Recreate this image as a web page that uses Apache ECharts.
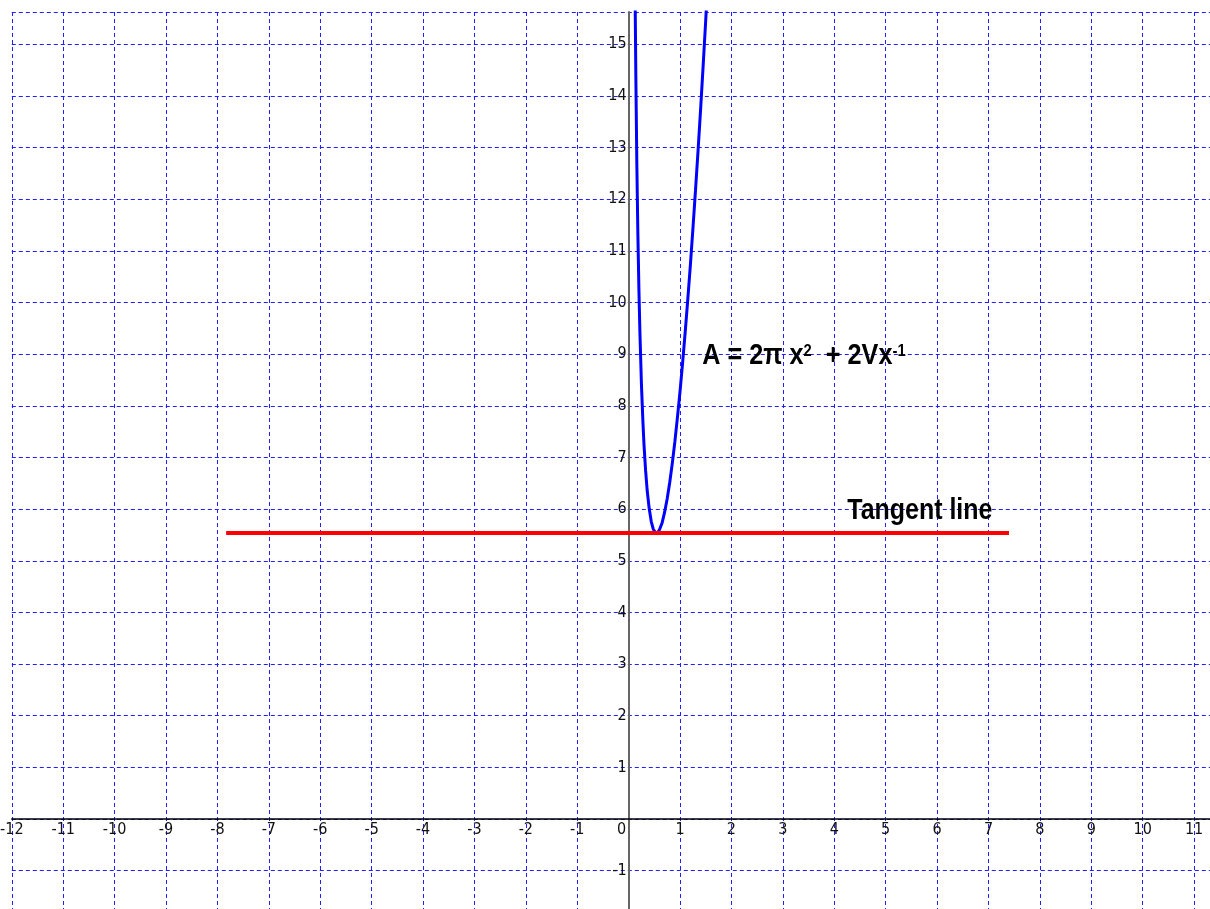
<!DOCTYPE html>
<html>
<head>
<meta charset="utf-8">
<title>A = 2πx² + 2Vx⁻¹</title>
<script src="https://cdn.jsdelivr.net/npm/echarts@6/dist/echarts.min.js"></script>
<style>
html, body { margin: 0; padding: 0; background: #ffffff; }
#container { width: 1210px; height: 909px; }
</style>
</head>
<body>
<div id="container"></div>
<script>
// curve A = 2*pi*x^2 + 2V/x
var curveX = [0.12, 0.13, 0.14, 0.16, 0.18, 0.20, 0.22, 0.25, 0.28, 0.30, 0.33, 0.36, 0.40, 0.44, 0.48, 0.52, 0.542,
              0.56, 0.60, 0.65, 0.70, 0.75, 0.80, 0.85, 0.90, 0.95, 1.00, 1.05, 1.10, 1.15, 1.20, 1.25, 1.30, 1.35,
              1.40, 1.45, 1.50, 1.55];
var curveY = [16.76, 15.49, 14.41, 12.66, 11.31, 10.25, 9.40, 8.39, 7.64, 7.23, 6.75, 6.37, 6.01, 5.76, 5.61, 5.55, 5.536,
              5.54, 5.60, 5.73, 5.94, 6.20, 6.52, 6.89, 7.31, 7.78, 8.28, 8.83, 9.42, 10.05, 10.71, 11.42, 12.16, 12.93,
              13.74, 14.59, 15.47, 16.39];

// horizontal tangent at the minimum
var tangentX = [-7.83, 7.40];
var tangentY = [5.536, 5.536];

// axis extents
var xRange = [-12, 11.31];
var yRange = [-2, 15.625];

// where the two texts sit (data coordinates)
var formulaAt = [3.41, 8.96];
var tangentTextAt = [5.665, 5.96];

// pick a narrow face if one is installed
function hasFont(name) {
    var c = document.createElement('canvas').getContext('2d');
    c.font = '40px monospace';
    var w0 = c.measureText('abcdefghijklm 0123456789').width;
    c.font = "40px '" + name + "', monospace";
    return c.measureText('abcdefghijklm 0123456789').width !== w0;
}
var narrow = ['Liberation Sans Narrow', 'Arial Narrow', 'DejaVu Sans Condensed', 'Roboto Condensed'].filter(hasFont)[0];
var labelFont = narrow ? "'" + narrow + "', 'Liberation Sans', sans-serif" : "'Liberation Sans', Arial, sans-serif";
var labelSize = narrow ? 16 : 14;

var dom = document.getElementById("container");
var myChart = echarts.init(dom);

var curveData = curveX.map(function (x, i) { return [x, curveY[i]]; });
var tangentData = tangentX.map(function (x, i) { return [x, tangentY[i]]; });

var option = {
    backgroundColor: '#FFFFFF',
    animation: false,
    grid: { left: 11.8, right: 0, top: 12, bottom: -13.3, containLabel: false, outerBoundsMode: 'none' },
    xAxis: {
        type: 'value',
        min: xRange[0],
        max: xRange[1],
        interval: 1,
        axisLine: { onZero: false, lineStyle: { color: '#000000', width: 1.5 } },
        axisTick: { show: false },
        splitLine: { show: true, lineStyle: { color: '#1f1fff', width: 1, type: [4, 3] } },
        axisLabel: {
            margin: 3,
            color: '#111111',
            fontSize: labelSize,
            fontFamily: labelFont,
            formatter: function (v) {
                if (Math.abs(v - Math.round(v)) > 1e-6) return '';
                if (v === 0) return '{o|0}';
                return String(v);
            },
            rich: {
                o: { fontSize: labelSize, fontFamily: labelFont, color: '#111111', padding: [0, 14, 0, 0] }
            }
        },
        z: 3
    },
    yAxis: {
        type: 'value',
        min: yRange[0],
        max: yRange[1],
        interval: 1,
        axisLine: { onZero: false, lineStyle: { color: '#666666', width: 2 } },
        axisTick: { show: false },
        splitLine: { show: true, lineStyle: { color: '#1f1fff', width: 1, type: [4, 3] } },
        axisLabel: {
            margin: 2,
            color: '#111111',
            fontSize: labelSize,
            fontFamily: labelFont,
            formatter: function (v) {
                if (Math.abs(v - Math.round(v)) > 1e-6) return '';
                if (v === 0) return '';
                return String(v);
            }
        },
        z: 3
    },
    series: [
        {
            name: 'A',
            type: 'line',
            data: curveData,
            showSymbol: false,
            smooth: false,
            clip: true,
            lineStyle: { color: '#0000ff', width: 3 },
            z: 4
        },
        {
            name: 'Tangent line',
            type: 'line',
            data: tangentData,
            showSymbol: false,
            lineStyle: { color: '#ff0000', width: 4 },
            z: 5
        }
    ]
};

myChart.setOption(option);

// move both axes onto the zero lines, measured through the library's own scales
var origin = myChart.convertToPixel({ gridIndex: 0 }, [0, 0]);
var corner = myChart.convertToPixel({ gridIndex: 0 }, [xRange[0], yRange[0]]);

// the two texts, squeezed like the narrow bold face of the original
var bigFont = 'bold 29px "Liberation Sans", Arial, sans-serif';
var supFont = 'bold 17px "Liberation Sans", Arial, sans-serif';
var fPos = myChart.convertToPixel({ gridIndex: 0 }, formulaAt);
var tPos = myChart.convertToPixel({ gridIndex: 0 }, tangentTextAt);

myChart.setOption({
    xAxis: { offset: origin[1] - corner[1] },
    yAxis: { offset: corner[0] - origin[0] },
    graphic: [
        {
            type: 'text',
            x: fPos[0],
            y: fPos[1],
            scaleX: 0.87,
            z: 10,
            style: {
                text: '{m|A = 2π x}{s|2}{m|  + 2Vx}{s|-1}',
                align: 'center',
                verticalAlign: 'middle',
                fill: '#000000',
                rich: {
                    m: { font: bigFont, fill: '#000000' },
                    s: { font: supFont, fill: '#000000', verticalAlign: 'top', padding: [1, 0, 0, 0] }
                }
            }
        },
        {
            type: 'text',
            x: tPos[0],
            y: tPos[1],
            scaleX: 0.86,
            z: 10,
            style: {
                text: 'Tangent line',
                font: bigFont,
                align: 'center',
                verticalAlign: 'middle',
                fill: '#000000'
            }
        }
    ]
});

window.onresize = function () {
    myChart.resize();
};
</script>
</body>
</html>
